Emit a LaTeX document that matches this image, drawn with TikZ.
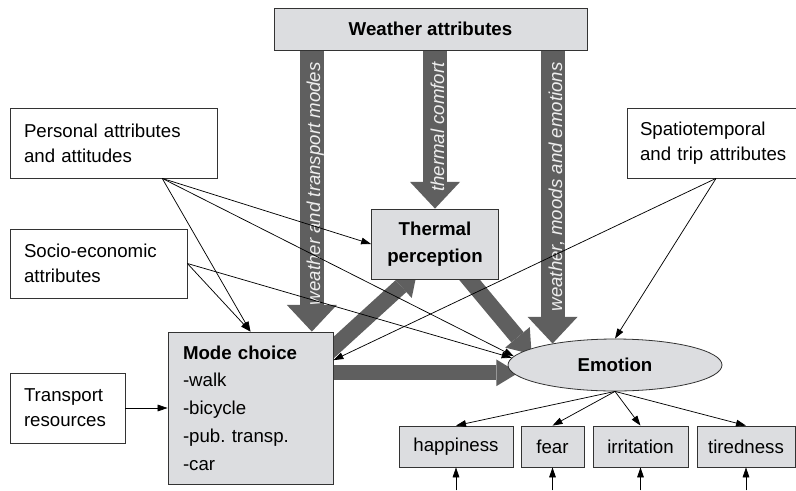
\documentclass[tikz,border=0pt]{standalone}
\usepackage{fontspec}
\setmainfont{Liberation Sans}
\usetikzlibrary{arrows.meta, shapes.geometric, backgrounds, calc}

\definecolor{boxgray}{RGB}{220,221,224}
\definecolor{flowgray}{RGB}{95,95,95}
\definecolor{flowtext}{RGB}{238,238,238}

\tikzset{
    attrbox/.style={draw=black!80, line width=0.6pt, fill=white, align=left,
        inner xsep=10.5pt, inner ysep=0pt, font=\fontsize{14}{18.75}\selectfont},
    corebox/.style={draw=black!80, line width=0.6pt, fill=boxgray, align=center,
        inner sep=0pt, font=\fontsize{14}{20}\selectfont\bfseries},
    itembox/.style={draw=black!80, line width=0.6pt, fill=boxgray,
        inner sep=0pt, minimum height=30.75pt, font=\fontsize{14}{16}\selectfont},
    link/.style={-{Triangle[length=7.5pt,width=5pt]}, line width=0.55pt},
    bigflow/.style={draw=flowgray, line width=18pt,
        -{Triangle[length=20pt,width=37.5pt,line width=0pt]}},
    midflow/.style={draw=flowgray, line width=12pt,
        -{Triangle[length=16.5pt,width=24pt,line width=0pt]}},
    flatflow/.style={draw=flowgray, line width=11.25pt,
        -{Triangle[length=16.5pt,width=20pt,line width=0pt]}},
    flowlabel/.style={text=flowtext, font=\fontsize{14}{16}\selectfont\itshape,
        rotate=90, anchor=base east, inner sep=0pt},
}

\begin{document}
\begin{tikzpicture}[x=0.75pt,y=-0.75pt]
    \useasboundingbox (0,0) rectangle (796,490);

    % boxes
    \node[corebox, minimum width=234.75pt, minimum height=31.5pt] (weather) at (430.5,29) {Weather attributes};
    \node[attrbox, text width=134.25pt, minimum height=52.5pt] (personal) at (113.5,143) {Personal attributes\\and attitudes};
    \node[attrbox, text width=111.75pt, minimum height=51.75pt] (socio) at (98.5,263.5) {Socio-economic\\attributes};
    \node[attrbox, text width=65.25pt, minimum height=52.5pt] (transport) at (67.5,408) {Transport\\resources};
    \node[attrbox, inner xsep=9.75pt, text width=114pt, minimum height=52.5pt] (spatio) at (716,143) {Spatiotemporal\\and trip attributes};
    \node[corebox, align=left, inner xsep=11.25pt, text width=101.25pt, minimum height=114pt,
        font=\fontsize{14}{20.8}\selectfont] (mode) at (250.5,408)
        {\textbf{Mode choice}\\-walk\\-bicycle\\-pub.\ transp.\\-car};
    \node[corebox, minimum width=95.25pt, minimum height=52.5pt] (thermal) at (435,244) {Thermal\\perception};
    \node[ellipse, draw=black!80, line width=0.6pt, fill=boxgray, minimum width=160.5pt,
        minimum height=39pt, inner sep=0pt, font=\fontsize{14}{16}\selectfont\bfseries] (emotion) at (615,365) {Emotion};

    % indicators
    \node[itembox, minimum width=85.5pt] (happiness) at (456,446.5) {happiness};
    \node[itembox, minimum width=47.25pt] (fear) at (552.5,446.5) {fear};
    \node[itembox, minimum width=71.25pt] (irritation) at (640.5,446.5) {irritation};
    \node[itembox, minimum width=73.5pt] (tiredness) at (746,446.5) {tiredness};

    % weather flows
    \coordinate (wm) at ($(mode.north west)!0.87!(mode.north east)$);
    \begin{scope}[on background layer]
        \draw[bigflow] (weather.south -| wm) -- (wm);
        \draw[bigflow] (weather.south -| thermal.north) -- (thermal.north);
        \draw[bigflow] (weather.south -| emotion.161) -- (emotion.161);
        \draw[midflow, shorten <=-12pt, shorten >=-9pt] (mode.36) -- (thermal.233);
        \draw[midflow, shorten <=-10pt, shorten >=-4.5pt] (thermal.-46) -- (emotion.170);
        \draw[flatflow, shorten >=-5pt] (mode.23) -- (mode.23 -| emotion.184);
    \end{scope}
    \node[flowlabel] (flowmode) at (320,62) {weather and transport modes};
    \node[flowlabel] (flowcomfort) at (444,62) {thermal comfort};
    \node[flowlabel] (flowmood) at (562,62) {weather, moods and emotions};

    % thin links
    \draw[link] (personal.-36) -- (mode.north);
    \draw[link] (personal.-36) -- (thermal.west);
    \draw[link] (personal.-36) -- (emotion.175);
    \draw[link] (socio.east) -- (mode.north);
    \draw[link] (socio.east) -- (emotion.176);
    \draw[link] (spatio.south) -- (emotion.north);
    \draw[link] (spatio.south) -- (mode.30);
    \draw[link] (transport.east) -- (mode.west);
    \foreach \ind in {happiness, fear, irritation, tiredness}{
        \draw[link] (emotion.south) -- (\ind.north);
        \draw[link] (\ind.south) ++(0,23) -- (\ind.south);
    }
\end{tikzpicture}
\end{document}
